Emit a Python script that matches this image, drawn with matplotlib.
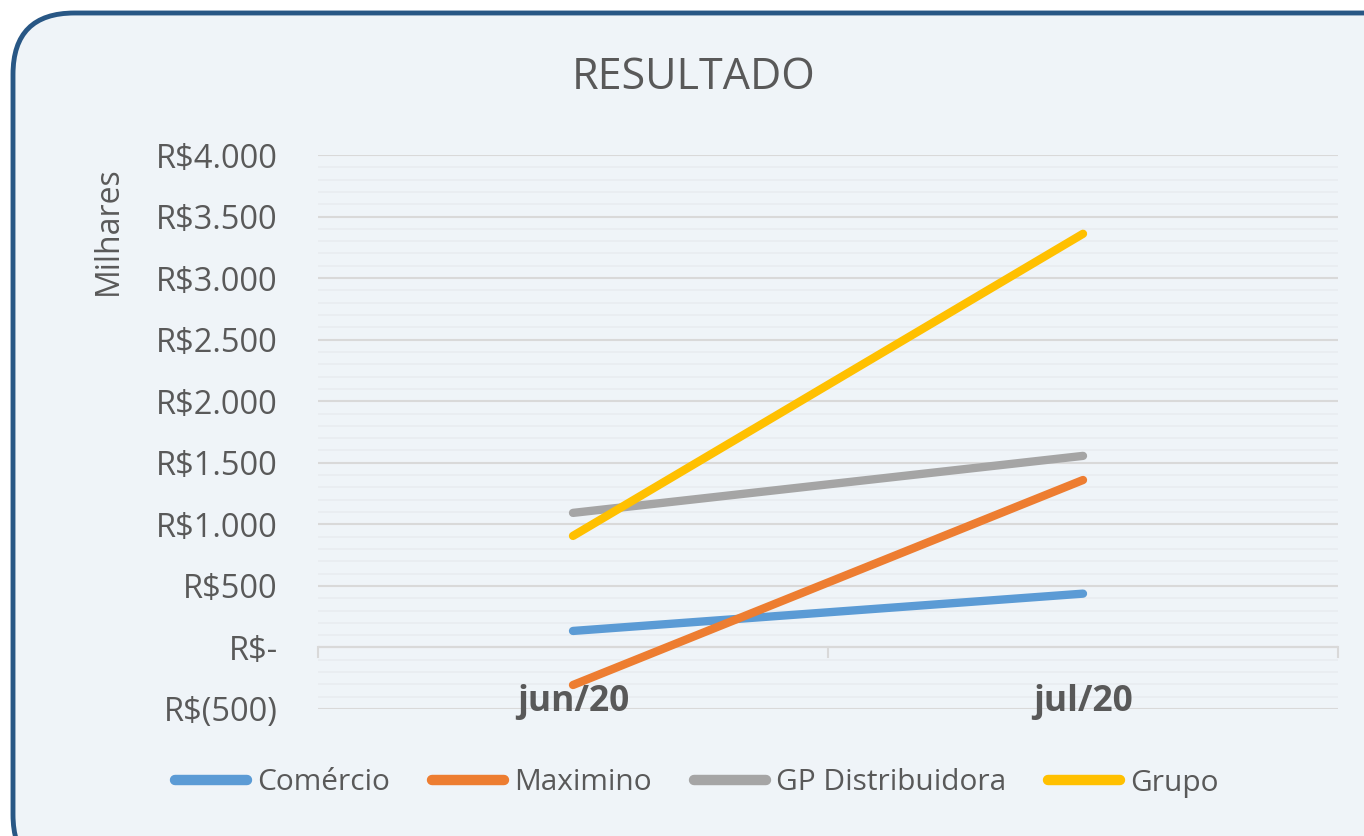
import matplotlib.pyplot as plt
from matplotlib.patches import FancyBboxPatch
from matplotlib.ticker import FuncFormatter, MultipleLocator

plt.rcParams['font.family'] = ['Open Sans', 'DejaVu Sans']

meses = ['jun/20', 'jul/20']
comercio = [134, 437]
maximino = [-305, 1360]
gp_distribuidora = [1093, 1556]
grupo = [906, 3360]

series = [('Comércio', comercio, '#5B9BD5'),
          ('Maximino', maximino, '#ED7D31'),
          ('GP Distribuidora', gp_distribuidora, '#A5A5A5'),
          ('Grupo', grupo, '#FFC000')]

texto = '#595959'
fundo = '#EFF4F8'

fig = plt.figure(figsize=(13.64, 8.36), dpi=100)
fig.patch.set_facecolor('white')

# moldura arredondada (cortada na direita e embaixo)
W, H = 1364, 836
moldura = FancyBboxPatch((13 / W, -40 / H), (W + 60) / W, (H - 13 + 40) / H,
                         boxstyle='round,pad=0,rounding_size=0.045',
                         transform=fig.transFigure, facecolor=fundo,
                         edgecolor='#285785', linewidth=3.5, zorder=-10,
                         mutation_aspect=W / H)
fig.patches.append(moldura)

ax = fig.add_axes([318 / W, 1 - 709 / H, 1020 / W, 554 / H])
ax.set_facecolor('none')

x = list(range(len(meses)))
for nome, vals, cor in series:
    ax.plot(x, vals, color=cor, lw=6, solid_capstyle='round', label=nome, zorder=3)

ax.set_xlim(-0.5, 1.5)
ax.set_ylim(-500, 4000)
ax.yaxis.set_major_locator(MultipleLocator(500))
ax.yaxis.set_minor_locator(MultipleLocator(100))


def moeda(v, pos):
    v = int(round(v))
    if v == 0:
        return 'R$-'
    s = f'{abs(v):,}'.replace(',', '.')
    return f'R$({s})' if v < 0 else f'R${s}'


ax.yaxis.set_major_formatter(FuncFormatter(moeda))
ax.grid(axis='y', which='major', color='#D9D9D9', lw=1.5, zorder=1)
ax.grid(axis='y', which='minor', color='#E8ECF0', lw=1.2, zorder=0)
ax.tick_params(axis='y', which='both', length=0, labelsize=23.5, labelcolor=texto, pad=29)

for s in ['top', 'right', 'left', 'bottom']:
    ax.spines[s].set_visible(False)

# eixo de categorias em y=0
ax.axhline(0, color='#D9D9D9', lw=1.5, zorder=2)
for xt in [-0.5, 0.5, 1.5]:
    ax.plot([xt, xt], [0, -80], color='#D9D9D9', lw=1.5, zorder=2, clip_on=False)
ax.set_xticks([])
for xi, m in zip(x, meses):
    ax.text(xi, -440, m, ha='center', va='center', fontsize=25.5,
            fontweight='bold', color=texto, zorder=4)

fig.text(694 / W, 1 - 78 / H, 'RESULTADO', ha='center', va='center',
         fontsize=31, color=texto)
fig.text(108 / W, 1 - 231 / H, 'Milhares', rotation=90, ha='center',
         va='center', fontsize=23, color=texto)

leg = fig.legend(loc='center', bbox_to_anchor=(697 / W, 1 - 783 / H), ncol=4,
                 frameon=False, fontsize=21.5, handlelength=2.4,
                 handletextpad=0.35, columnspacing=1.4, labelcolor=texto)
for h in leg.get_lines():
    h.set_linewidth(7.5)

fig.savefig('out.png', dpi=100, facecolor='white')
